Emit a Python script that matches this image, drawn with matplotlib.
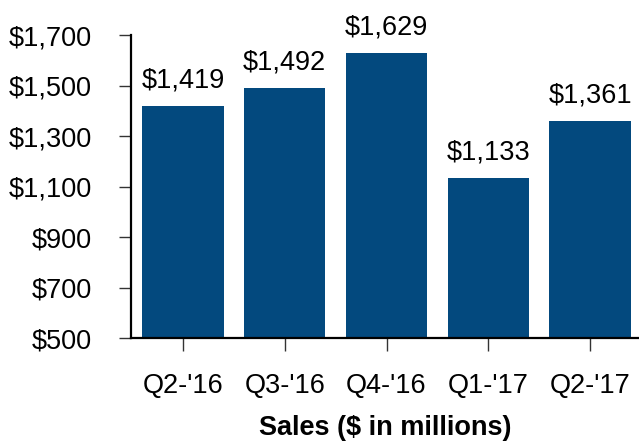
import matplotlib.pyplot as plt

quarters = ["Q2-'16", "Q3-'16", "Q4-'16", "Q1-'17", "Q2-'17"]
sales = [1419, 1492, 1629, 1133, 1361]
y_ticks = [500, 700, 900, 1100, 1300, 1500, 1700]

plt.rcParams['font.family'] = ['Liberation Sans', 'DejaVu Sans']

fig = plt.figure(figsize=(6.39, 4.45), dpi=100)
ax = fig.add_axes([0.205, 0.2404, 0.795, 0.6809])

x = range(len(quarters))
ax.bar(x, sales, width=0.8, color='#03497E', zorder=2)

for i, v in enumerate(sales):
    ax.annotate(f"${v:,}", (i, v), xytext=(0, 9), textcoords='offset points',
                ha='center', va='bottom', fontsize=19.5)

ax.set_xlim(-0.51, 4.48)
ax.set_ylim(500, 1700)
ax.set_yticks(y_ticks)
ax.set_yticklabels([f"${t:,}" for t in y_ticks])
ax.set_xticks(list(x))
ax.set_xticklabels(quarters)

ax.spines['top'].set_visible(False)
ax.spines['right'].set_visible(False)
ax.spines['left'].set_linewidth(1.6)
ax.spines['bottom'].set_linewidth(1.6)
ax.tick_params(axis='y', length=9, width=1, color='#333333', labelsize=19.5, pad=19)
ax.tick_params(axis='x', length=9, width=1, color='#333333', labelsize=19.5, pad=16)

ax.set_xlabel('Sales ($ in millions)', fontsize=19.5, fontweight='bold', labelpad=12)

fig.savefig('out.png', dpi=100)
